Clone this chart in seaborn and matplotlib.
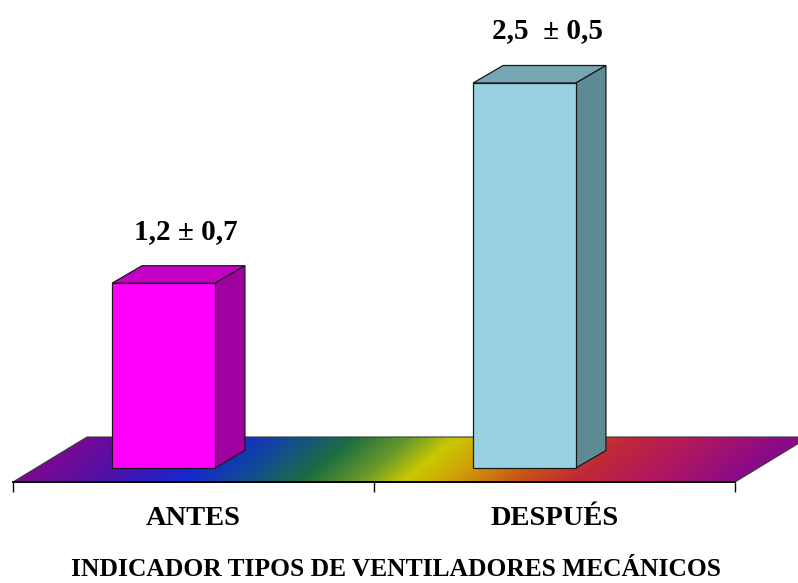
import numpy as np
import pandas as pd
import matplotlib
matplotlib.use("Agg")
import matplotlib.pyplot as plt
import seaborn as sns
from matplotlib.patches import Polygon
from matplotlib.colors import LinearSegmentedColormap

# ---- data -------------------------------------------------------------
categorias = ["ANTES", "DESPUÉS"]
medias = [1.2, 2.5]
desvios = [0.7, 0.5]
etiquetas = ["1,2 ± 0,7", "2,5  ± 0,5"]
titulo_x = "INDICADOR TIPOS DE VENTILADORES MECÁNICOS"

# ---- styling ----------------------------------------------------------
colores_frente = ["#FF00FF", "#99D1E1"]
colores_tapa = ["#C400C4", "#75A6B2"]
colores_lado = ["#A000A0", "#5E8A94"]
piso_colores = [
    (0.00, "#7E0890"), (0.12, "#5010A8"), (0.23, "#1428D0"),
    (0.31, "#124A96"), (0.40, "#1C6E40"), (0.48, "#6C9A2A"),
    (0.54, "#C8C800"), (0.60, "#D0A408"), (0.70, "#C85018"),
    (0.78, "#C02838"), (0.88, "#B01860"), (1.00, "#8A0A88"),
]
fuente = "Liberation Serif"

sns.set_theme(style="white")
plt.rcParams["font.family"] = [fuente, "DejaVu Serif"]

W, H = 798, 583
fig = plt.figure(figsize=(W / 100, H / 100), dpi=100)
ax = fig.add_axes([0, 0, 1, 1])

df = pd.DataFrame({"grupo": categorias, "media": medias, "de": desvios})
sns.barplot(data=df, x="grupo", y="media", hue="grupo", palette=colores_frente,
            width=0.285, saturation=1, legend=False, edgecolor="#1a1a1a",
            linewidth=0.9, ax=ax, zorder=3)

# ---- pixel based geometry of the pseudo-3D scene -----------------------
x_izq_px, x_der_px = 13, 735       # category axis extent
eje_px = 482                        # axis line (from top)
base_px = 468                       # bar base (from top)
px_unidad = 154                     # pixels per value unit
ux = 2 / (x_der_px - x_izq_px)
uy = 1 / px_unidad

ax.set_xlim(-0.5 - x_izq_px * ux, 1.5 + (W - x_der_px) * ux)
ax.set_ylim(-(H - base_px) * uy, base_px * uy)

prof_x, prof_y = 30 * ux, 17.5 * uy          # bar depth
desplaz = -30 * ux                            # front face shift
y_frente = -(eje_px - base_px) * uy
piso_px_y, piso_px_x = 45, 74
y_fondo = y_frente + piso_px_y * uy
piso_dx = piso_px_x * ux

# ---- floor with rainbow gradient ---------------------------------------
cmap = LinearSegmentedColormap.from_list("piso", piso_colores)
xs = np.linspace(-0.5, 1.5 + piso_dx, 900)
ys = np.linspace(y_frente, y_fondo, 60)
XX, YY = np.meshgrid(xs, ys)
x_px = (XX + 0.5) / ux + x_izq_px
alto_px = (YY - y_frente) / uy
t = np.clip((x_px - 1.2 * alto_px - x_izq_px) / (x_der_px - x_izq_px), 0, 1)
im = ax.imshow(t, cmap=cmap, origin="lower", aspect="auto",
               extent=(xs[0], xs[-1], ys[0], ys[-1]), zorder=1,
               interpolation="bilinear")
piso = Polygon([(-0.5, y_frente), (1.5, y_frente),
                (1.5 + piso_dx, y_fondo), (-0.5 + piso_dx, y_fondo)],
               closed=True, facecolor="none", edgecolor="#3a3a3a",
               linewidth=0.8, zorder=1.5)
ax.add_patch(piso)
im.set_clip_path(piso)
im.set_clip_box(None)

# ---- bars: shift front faces, add top and side faces --------------------
for i, p in enumerate(ax.patches[:len(categorias)]):
    p.set_x(p.get_x() + desplaz)
    x0, w, h = p.get_x(), p.get_width(), p.get_height()
    x1 = x0 + w
    tapa = Polygon([(x0, h), (x1, h), (x1 + prof_x, h + prof_y),
                    (x0 + prof_x, h + prof_y)], closed=True,
                   facecolor=colores_tapa[i], edgecolor="#1a1a1a",
                   linewidth=0.9, zorder=2.5)
    lado = Polygon([(x1, 0), (x1 + prof_x, prof_y), (x1 + prof_x, h + prof_y),
                    (x1, h)], closed=True, facecolor=colores_lado[i],
                   edgecolor="#1a1a1a", linewidth=0.9, zorder=2.5)
    ax.add_patch(tapa)
    ax.add_patch(lado)
    ax.annotate(etiquetas[i], xy=(x0 + w / 2 + 0.75 * prof_x, h + prof_y),
                xytext=(0, 19.5), textcoords="offset points",
                ha="center", va="baseline", fontsize=21,
                fontweight="bold", color="black")

# ---- axis ---------------------------------------------------------------
for lado_sp in ["top", "right", "left"]:
    ax.spines[lado_sp].set_visible(False)
ax.spines["bottom"].set_position(("data", y_frente))
ax.spines["bottom"].set_bounds(-0.5, 1.5)
ax.spines["bottom"].set_color("black")
ax.spines["bottom"].set_linewidth(1.4)
ax.spines["bottom"].set_zorder(4)
ax.set_yticks([])
ax.set_xticks([-0.5, 0.5, 1.5])
ax.set_xticklabels([])
ax.set_xticks([0, 1], minor=True)
ax.set_xticklabels(categorias, minor=True, fontsize=20.5, fontweight="bold")
ax.tick_params(axis="x", which="major", direction="out", length=7.5,
               width=1.0, color="black", bottom=True)
ax.tick_params(axis="x", which="minor", length=0, pad=17, colors="black")
ax.set_xlabel("")
ax.set_ylabel("")
ax.patch.set_alpha(0)

fig.text(396 / W, 7 / H, titulo_x, ha="center", va="baseline",
         fontsize=18.4, fontweight="bold", color="black")

fig.savefig("out.png", dpi=100, facecolor="white")
